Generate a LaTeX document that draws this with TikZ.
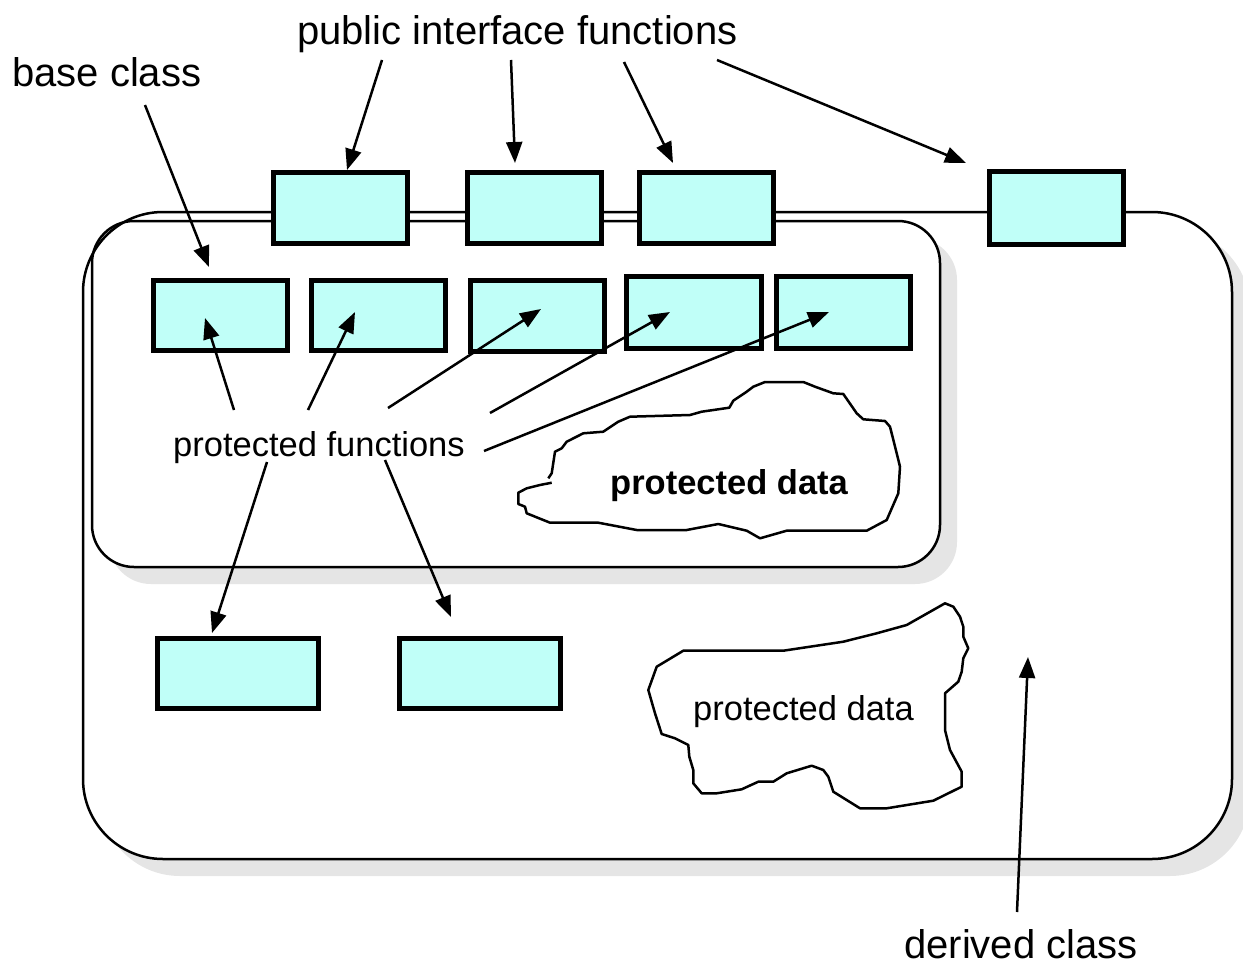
\documentclass[tikz,border=0pt]{standalone}
\usepackage{fontspec}
\setmainfont{Liberation Sans}
\usetikzlibrary{arrows.meta}
\definecolor{boxfill}{RGB}{192,255,248}
\definecolor{shadowgray}{RGB}{229,229,229}
\begin{document}
\begin{tikzpicture}[x=1pt,y=-1pt,
  fnbox/.style={draw, line width=5pt, fill=boxfill, inner sep=0pt, minimum width=134pt, minimum height=71pt},
  widebox/.style={fnbox, minimum width=161pt, minimum height=70pt},
  conn/.style={line width=2.5pt, -{Triangle[length=21pt,width=16pt]}},
  biglabel/.style={inner sep=0pt, anchor=base west, font=\fontsize{40}{48}\selectfont},
  smalllabel/.style={inner sep=0pt, anchor=base west, font=\fontsize{34.5}{41}\selectfont},
  outline/.style={line width=2.5pt, line join=round},
]
\useasboundingbox (0,0) rectangle (1243,966);
% shadows and class frames
\fill[shadowgray, rounded corners=80pt] (100,229) rectangle (1250,876);
\fill[white, rounded corners=80pt] (83,212) rectangle (1232,859);
\fill[shadowgray, rounded corners=42pt] (109,238) rectangle (957,584);
\fill[white, rounded corners=42pt] (92,221) rectangle (940,567);
\draw[outline, rounded corners=80pt] (83,212) rectangle (1232,859);
\draw[outline, rounded corners=42pt] (92,221) rectangle (940,567);
% protected data clouds
\draw[outline, fill=white] (551.7,482.7) -- (540,485) -- (526.7,488.3) -- (518.3,492.7) -- (518.3,504) -- (525,506.7) -- (526.7,513.3) -- (550,522.7) -- (598.3,522.7) -- (636.7,530) -- (686.7,530) -- (718.3,524) -- (746.7,530.7) -- (760,538.3) -- (786.7,530.7) -- (866.7,530.7) -- (886.7,520) -- (898.3,493.3) -- (900,466.7) -- (896.7,453.3) -- (890,426.7) -- (885,421) -- (863.3,419.3) -- (856.7,413.3) -- (843.3,394) -- (833.3,393.3) -- (815,386.7) -- (803.3,382) -- (765,382) -- (753.3,386.7) -- (746.7,391.7) -- (733.3,400.7) -- (729.3,407.7) -- (701.7,411.7) -- (690,415) -- (630,416.7) -- (618.3,421.7) -- (603.3,431.7) -- (583.3,433.3) -- (566.7,441.7) -- (561.7,448.3) -- (555,451.7) -- (551.7,473.3) -- (548.3,478.3);
\draw[outline, fill=white] (661.7,734) -- (675,738.3) -- (688.3,745) -- (689.3,756.7) -- (693.3,770) -- (693.3,783.3) -- (701.7,793.3) -- (716.7,793.3) -- (741.7,789.3) -- (758.3,781.7) -- (773.3,781.7) -- (786.7,773.3) -- (811.7,765.7) -- (823.3,770) -- (828.3,776.7) -- (833.3,791.7) -- (860,808.3) -- (886.7,808.3) -- (933.3,800.7) -- (961.7,786.7) -- (961.7,771.7) -- (950,750) -- (945,730) -- (945,693.3) -- (958.3,681.7) -- (961.7,671.7) -- (963.3,658.3) -- (968.3,648.3) -- (963.3,636.7) -- (963.3,626.7) -- (960,616.7) -- (953.3,606.7) -- (945,603.3) -- (906.7,625) -- (876.7,633.3) -- (843.3,641.7) -- (783.3,650.7) -- (683.3,650.7) -- (656.7,666.7) -- (648.3,690) -- (655,713.3) -- cycle;
% function boxes
\node[fnbox] (pub1) at (340,208) {};
\node[fnbox] (pub2) at (534.5,208) {};
\node[fnbox] (pub3) at (706.5,208) {};
\node[fnbox, minimum height=73pt] (pub4) at (1056.5,208) {};
\node[fnbox, minimum height=70pt] (pa) at (220.5,315.5) {};
\node[fnbox, minimum height=70pt] (pb) at (378.5,315.5) {};
\node[fnbox] (pc) at (537.5,316) {};
\node[fnbox, minimum width=135pt, minimum height=72pt] (pd) at (694,312.5) {};
\node[fnbox, minimum height=72pt] (pe) at (843.5,312.5) {};
\node[widebox] (bf) at (238,673.5) {};
\node[widebox] (bg) at (480,673.5) {};
% labels
\node[biglabel] (lpub) at (297,45) {public interface functions};
\node[biglabel] (lbase) at (12,87) {base class};
\node[smalllabel] (lprot) at (173,456) {protected functions};
\node[smalllabel, font=\fontsize{34.5}{41}\selectfont\bfseries] (ldata1) at (610,494) {protected data};
\node[smalllabel] (ldata2) at (693,720) {protected data};
\node[biglabel] (lder) at (904,958) {derived class};
% connector end points
\coordinate (s1) at (382,60); \coordinate (t1) at (347,170);
\coordinate (s2) at (511,60); \coordinate (t2) at (515,163);
\coordinate (s3) at (624,62); \coordinate (t3) at (673,163);
\coordinate (s4) at (717,60); \coordinate (t4) at (966,163);
\coordinate (sb) at (145,105); \coordinate (tb) at (209,267);
\coordinate (sa) at (234,410); \coordinate (ta) at (205,318);
\coordinate (sbb) at (308,410); \coordinate (tbb) at (355,312);
\coordinate (sc) at (388,408); \coordinate (tc) at (541,309);
\coordinate (sd) at (490,413); \coordinate (td) at (670,312);
\coordinate (se) at (484,451); \coordinate (te) at (829,312);
\coordinate (sf) at (267,462); \coordinate (tf) at (212,633);
\coordinate (sg) at (385,460); \coordinate (tg) at (451,617);
\coordinate (sdc) at (1017,912); \coordinate (tdc) at (1028,657);
% connectors
\draw[conn] (s1) -- (t1);
\draw[conn] (s2) -- (t2);
\draw[conn] (s3) -- (t3);
\draw[conn] (s4) -- (t4);
\draw[conn] (sb) -- (tb);
\draw[conn] (sa) -- (ta);
\draw[conn] (sbb) -- (tbb);
\draw[conn] (sc) -- (tc);
\draw[conn] (sd) -- (td);
\draw[conn] (se) -- (te);
\draw[conn] (sf) -- (tf);
\draw[conn] (sg) -- (tg);
\draw[conn] (sdc) -- (tdc);
\end{tikzpicture}
\end{document}
